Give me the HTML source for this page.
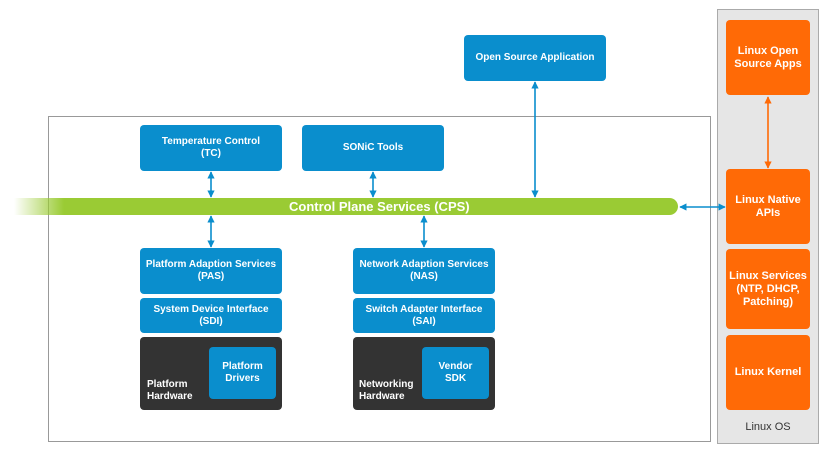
<!DOCTYPE html>
<html><head><meta charset="utf-8"><style>
body{margin:0;width:824px;height:451px;background:#fff;position:relative;overflow:hidden;font-family:"Liberation Sans",sans-serif;}
.b{position:absolute;background:#0a8ecd;color:#fff;border-radius:4px;display:flex;align-items:center;justify-content:center;text-align:center;font-size:10px;font-weight:bold;line-height:12px;}
.o{position:absolute;left:726px;width:84px;background:#ff6a06;color:#fff;border-radius:4px;display:flex;align-items:center;justify-content:center;text-align:center;font-size:11px;font-weight:bold;line-height:13px;}
.d{position:absolute;background:#333;border-radius:4px;}
.t{position:absolute;color:#fff;font-size:10px;font-weight:bold;line-height:12px;}
</style></head><body>
<div style="position:absolute;left:48px;top:116px;width:663px;height:326px;border:1px solid #999;box-sizing:border-box;"></div>
<div style="position:absolute;left:717px;top:9px;width:102px;height:435px;border:1px solid #aaa;background:#e6e6e6;box-sizing:border-box;"></div>
<div style="position:absolute;left:14px;top:198px;width:664px;height:17px;border-radius:0 9px 9px 0;background:linear-gradient(to right,rgba(154,203,52,0) 0px,rgba(154,203,52,1) 50px);color:#fff;font-size:13px;font-weight:bold;line-height:17px;"><span style="position:absolute;left:275px;">Control Plane Services (CPS)</span></div>
<div class="b" style="left:464px;top:35px;width:142px;height:46px;">Open Source Application</div>
<div class="b" style="left:140px;top:125px;width:142px;height:46px;">Temperature Control<br>(TC)</div>
<div class="b" style="left:302px;top:125px;width:142px;height:46px;">SONiC Tools</div>
<div class="b" style="left:140px;top:248px;width:142px;height:46px;">Platform Adaption Services<br>(PAS)</div>
<div class="b" style="left:140px;top:298px;width:142px;height:35px;">System Device Interface<br>(SDI)</div>
<div class="d" style="left:140px;top:337px;width:142px;height:73px;"></div>
<div class="b" style="left:209px;top:347px;width:67px;height:52px;">Platform<br>Drivers</div>
<div class="t" style="left:147px;top:379px;">Platform<br>Hardware</div>
<div class="b" style="left:353px;top:248px;width:142px;height:46px;">Network Adaption Services<br>(NAS)</div>
<div class="b" style="left:353px;top:298px;width:142px;height:35px;">Switch Adapter Interface<br>(SAI)</div>
<div class="d" style="left:353px;top:337px;width:142px;height:73px;"></div>
<div class="b" style="left:422px;top:347px;width:67px;height:52px;">Vendor<br>SDK</div>
<div class="t" style="left:359px;top:379px;">Networking<br>Hardware</div>
<div class="o" style="top:20px;height:75px;">Linux Open<br>Source Apps</div>
<div class="o" style="top:169px;height:75px;">Linux Native<br>APIs</div>
<div class="o" style="top:249px;height:80px;">Linux Services<br>(NTP, DHCP,<br>Patching)</div>
<div class="o" style="top:335px;height:75px;">Linux Kernel</div>
<div style="position:absolute;left:717px;width:102px;top:421px;text-align:center;font-size:11px;color:#333;">Linux OS</div>
<svg width="824" height="451" style="position:absolute;left:0;top:0" >
<defs>
<marker id="a" viewBox="0 0 10 10" refX="9" refY="5" markerWidth="4.5" markerHeight="4.5" orient="auto-start-reverse"><path d="M0,0L10,5L0,10z" fill="#0a8ecd"/></marker>
<marker id="ao" viewBox="0 0 10 10" refX="9" refY="5" markerWidth="4.5" markerHeight="4.5" orient="auto-start-reverse"><path d="M0,0L10,5L0,10z" fill="#ff6a06"/></marker>
</defs>
<g stroke="#0a8ecd" stroke-width="1.6">
<line x1="211" y1="172" x2="211" y2="197" marker-start="url(#a)" marker-end="url(#a)"/>
<line x1="211" y1="216" x2="211" y2="247" marker-start="url(#a)" marker-end="url(#a)"/>
<line x1="373" y1="172" x2="373" y2="197" marker-start="url(#a)" marker-end="url(#a)"/>
<line x1="424" y1="216" x2="424" y2="247" marker-start="url(#a)" marker-end="url(#a)"/>
<line x1="535" y1="82" x2="535" y2="197" marker-start="url(#a)" marker-end="url(#a)"/>
<line x1="680" y1="207" x2="725" y2="207" marker-start="url(#a)" marker-end="url(#a)"/>
</g>
<line x1="768" y1="97" x2="768" y2="168" stroke="#ff6a06" stroke-width="1.6" marker-start="url(#ao)" marker-end="url(#ao)"/>
</svg>
</body></html>
